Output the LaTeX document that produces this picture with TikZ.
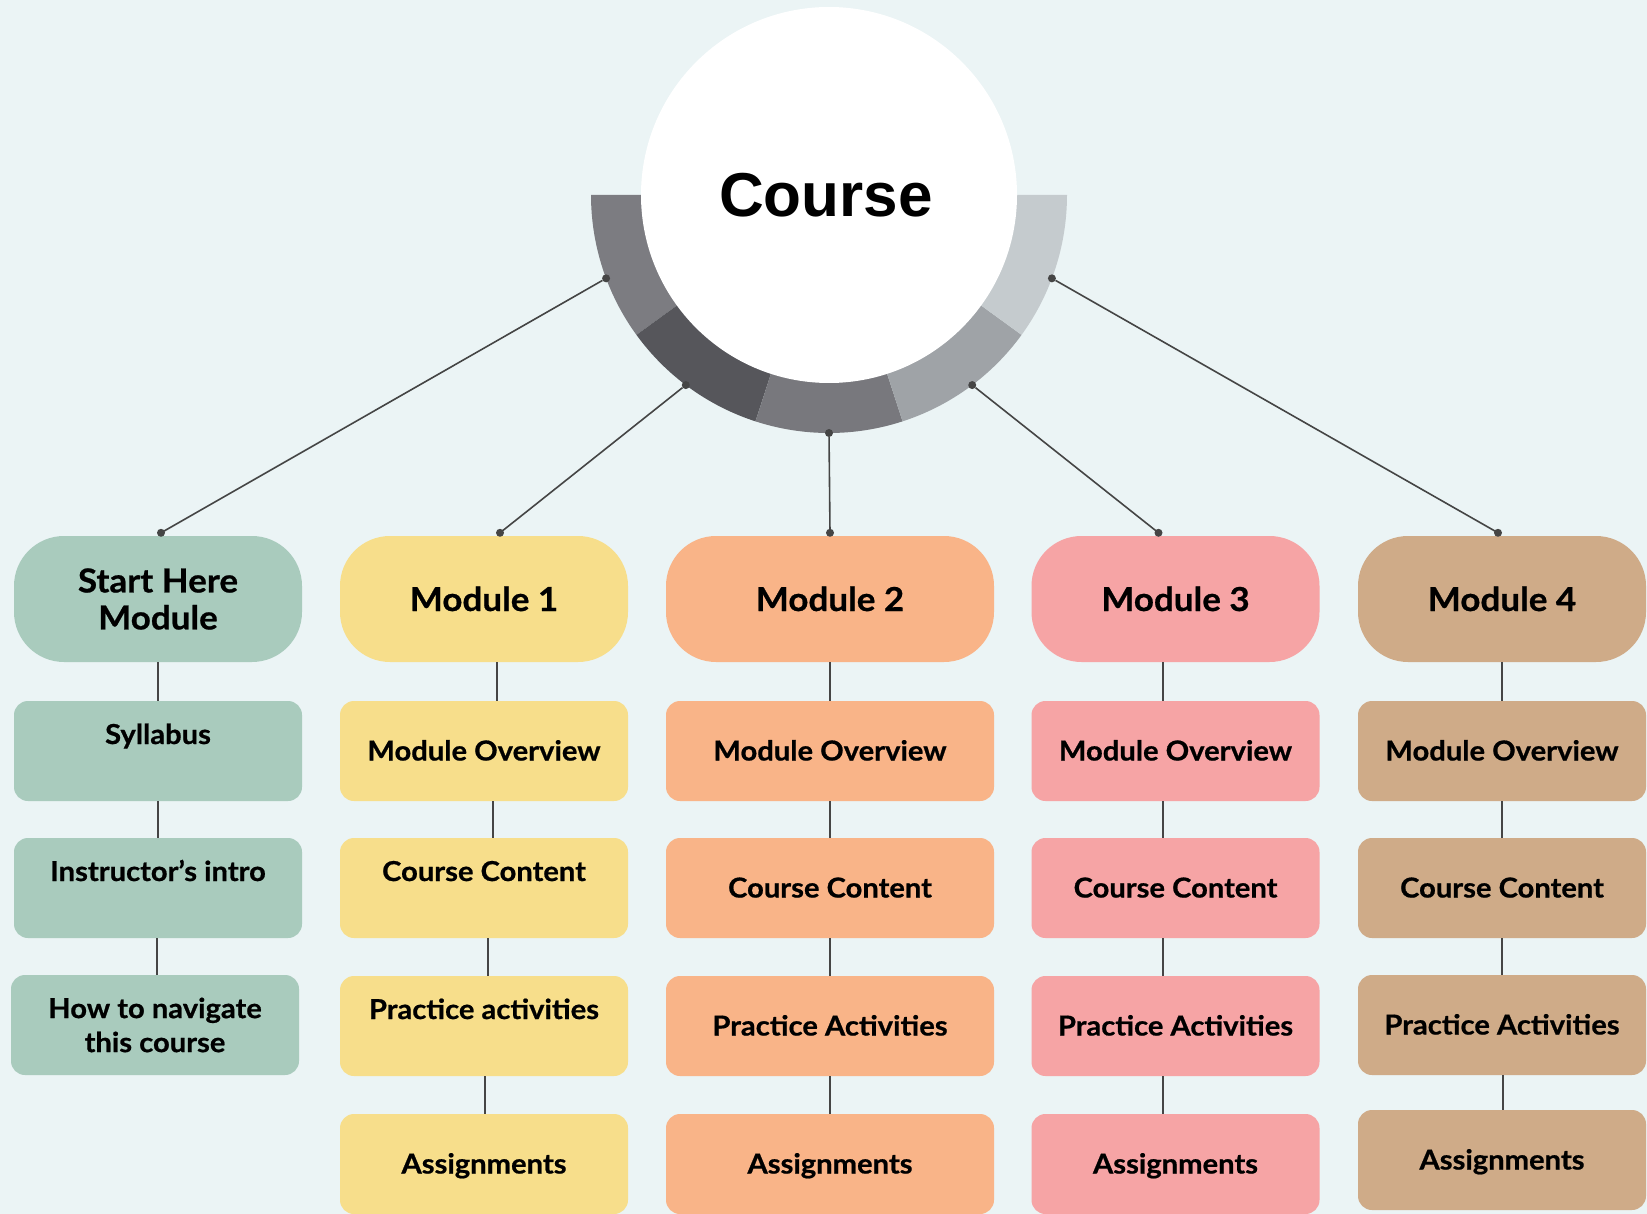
\documentclass[tikz,border=0pt]{standalone}
\usepackage{fontspec}
\setmainfont{Lato}[BoldFeatures={FakeStretch=1.06,FakeBold=0.7}]
\newfontfamily\coursefamily{Liberation Sans}
\usetikzlibrary{calc}

\definecolor{bg}{HTML}{EBF4F5}
\definecolor{sage}{HTML}{A9CBBD}
\definecolor{butter}{HTML}{F7DE8B}
\definecolor{peach}{HTML}{F9B488}
\definecolor{rose}{HTML}{F6A4A5}
\definecolor{tan}{HTML}{CFAB88}
\definecolor{ringa}{HTML}{7C7C81}
\definecolor{ringb}{HTML}{56565B}
\definecolor{ringc}{HTML}{78787D}
\definecolor{ringd}{HTML}{9FA3A7}
\definecolor{ringe}{HTML}{C5CBCE}
\definecolor{wiregray}{HTML}{454545}

\newcommand\headfont{\bfseries\fontsize{33}{37}\selectfont}
\newcommand\topicfont{\bfseries\fontsize{27.5}{34}\selectfont}

\tikzset{
  course/.style={circle, fill=white, minimum size=376pt, inner sep=0pt,
    font=\coursefamily\bfseries\fontsize{62}{70}\selectfont, text height=44pt, text depth=0pt},
  head/.style={rounded corners=50pt, minimum width=288pt, minimum height=126pt, inner sep=0pt,
    align=center, font=\headfont, text height=24pt, text depth=0pt},
  topic/.style={rounded corners=14pt, minimum width=288pt, minimum height=100pt, inner sep=0pt,
    align=center, font=\topicfont, text height=19pt, text depth=0pt},
  upper/.style={text depth=33pt},
  wire/.style={draw=wiregray, line width=1.6pt},
  pin/.style={circle, fill=wiregray, inner sep=0pt, minimum size=8pt}
}

\begin{document}
\begin{tikzpicture}[x=1pt,y=1pt]

\fill[bg] (0,0) rectangle (1647,-1214);
\useasboundingbox (0,0) rectangle (1647,-1214);

% ring under the course circle
\coordinate (c) at (829,-195);
\foreach \a/\col in {180/ringa,216/ringb,252/ringc,288/ringd,324/ringe}
  \fill[\col] ($(c)+(\a:238)$) arc[start angle=\a, delta angle=36, radius=238]
    -- ($(c)+(\a+36:170)$) arc[start angle=\a+36, delta angle=-36, radius=170] -- cycle;

\node[course] (course) at (c) {\hspace*{-6pt}Course};

% module headers
\node[head, fill=sage, text height=, text depth=] (hd0) at (158,-599) {Start Here\\Module};
\node[head, fill=butter] (hd1) at (484,-599) {Module 1};
\node[head, fill=peach, minimum width=328pt] (hd2) at (830,-599) {Module 2};
\node[head, fill=rose] (hd3) at (1175.5,-599) {Module 3};
\node[head, fill=tan] (hd4) at (1502,-599) {Module 4};

% start here
\node[topic, fill=sage, upper] (it0-1) at (158,-751) {Syllabus};
\node[topic, fill=sage, upper] (it0-2) at (158,-888) {Instructor’s intro};
\node[topic, fill=sage, text height=, text depth=] (it0-3) at (155,-1025) {How to navigate\\this course};

% module 1
\node[topic, fill=butter] (it1-1) at (484,-751) {Module Overview};
\node[topic, fill=butter, upper] (it1-2) at (484,-888) {Course Content};
\node[topic, fill=butter, upper] (it1-3) at (484,-1026) {Practice activities};
\node[topic, fill=butter] (it1-4) at (484,-1164) {Assignments};

% module 2
\node[topic, fill=peach, minimum width=328pt] (it2-1) at (830,-751) {Module Overview};
\node[topic, fill=peach, minimum width=328pt] (it2-2) at (830,-888) {Course Content};
\node[topic, fill=peach, minimum width=328pt] (it2-3) at (830,-1026) {Practice Activities};
\node[topic, fill=peach, minimum width=328pt] (it2-4) at (830,-1164) {Assignments};

% module 3
\node[topic, fill=rose] (it3-1) at (1175.5,-751) {Module Overview};
\node[topic, fill=rose] (it3-2) at (1175.5,-888) {Course Content};
\node[topic, fill=rose] (it3-3) at (1175.5,-1026) {Practice Activities};
\node[topic, fill=rose] (it3-4) at (1175.5,-1164) {Assignments};

% module 4
\node[topic, fill=tan] (it4-1) at (1502,-751) {Module Overview};
\node[topic, fill=tan] (it4-2) at (1502,-888) {Course Content};
\node[topic, fill=tan] (it4-3) at (1502,-1025) {Practice Activities};
\node[topic, fill=tan] (it4-4) at (1502,-1160) {Assignments};

% links down each column
\foreach \a/\b/\dx in {hd0/it0-1/0, it0-1/it0-2/0, it0-2/it0-3/-1,
    hd1/it1-1/13, it1-1/it1-2/9, it1-2/it1-3/4, it1-3/it1-4/1,
    hd2/it2-1/0, it2-1/it2-2/0, it2-2/it2-3/0, it2-3/it2-4/0,
    hd3/it3-1/-12.5, it3-1/it3-2/-12.5, it3-2/it3-3/-12.5, it3-3/it3-4/-12.5,
    hd4/it4-1/0, it4-1/it4-2/0, it4-2/it4-3/0, it4-3/it4-4/1}
  \draw[wire] ([xshift=\dx pt]\a.south) -- ([xshift=\dx pt]\a.south |- \b.north);

% spokes from the ring
\foreach \a [count=\i] in {200.5,233,270,307,339.5}
  \node[pin] (r\i) at ($(c)+(\a:238)$) {};
\foreach \r/\m/\dx in {r1/hd0/3, r2/hd1/16, r3/hd2/0, r4/hd3/-17, r5/hd4/-4}
  \draw[wire] (\r) -- ([shift={(\dx pt,3pt)}]\m.north) node[pin] {};

\end{tikzpicture}
\end{document}
